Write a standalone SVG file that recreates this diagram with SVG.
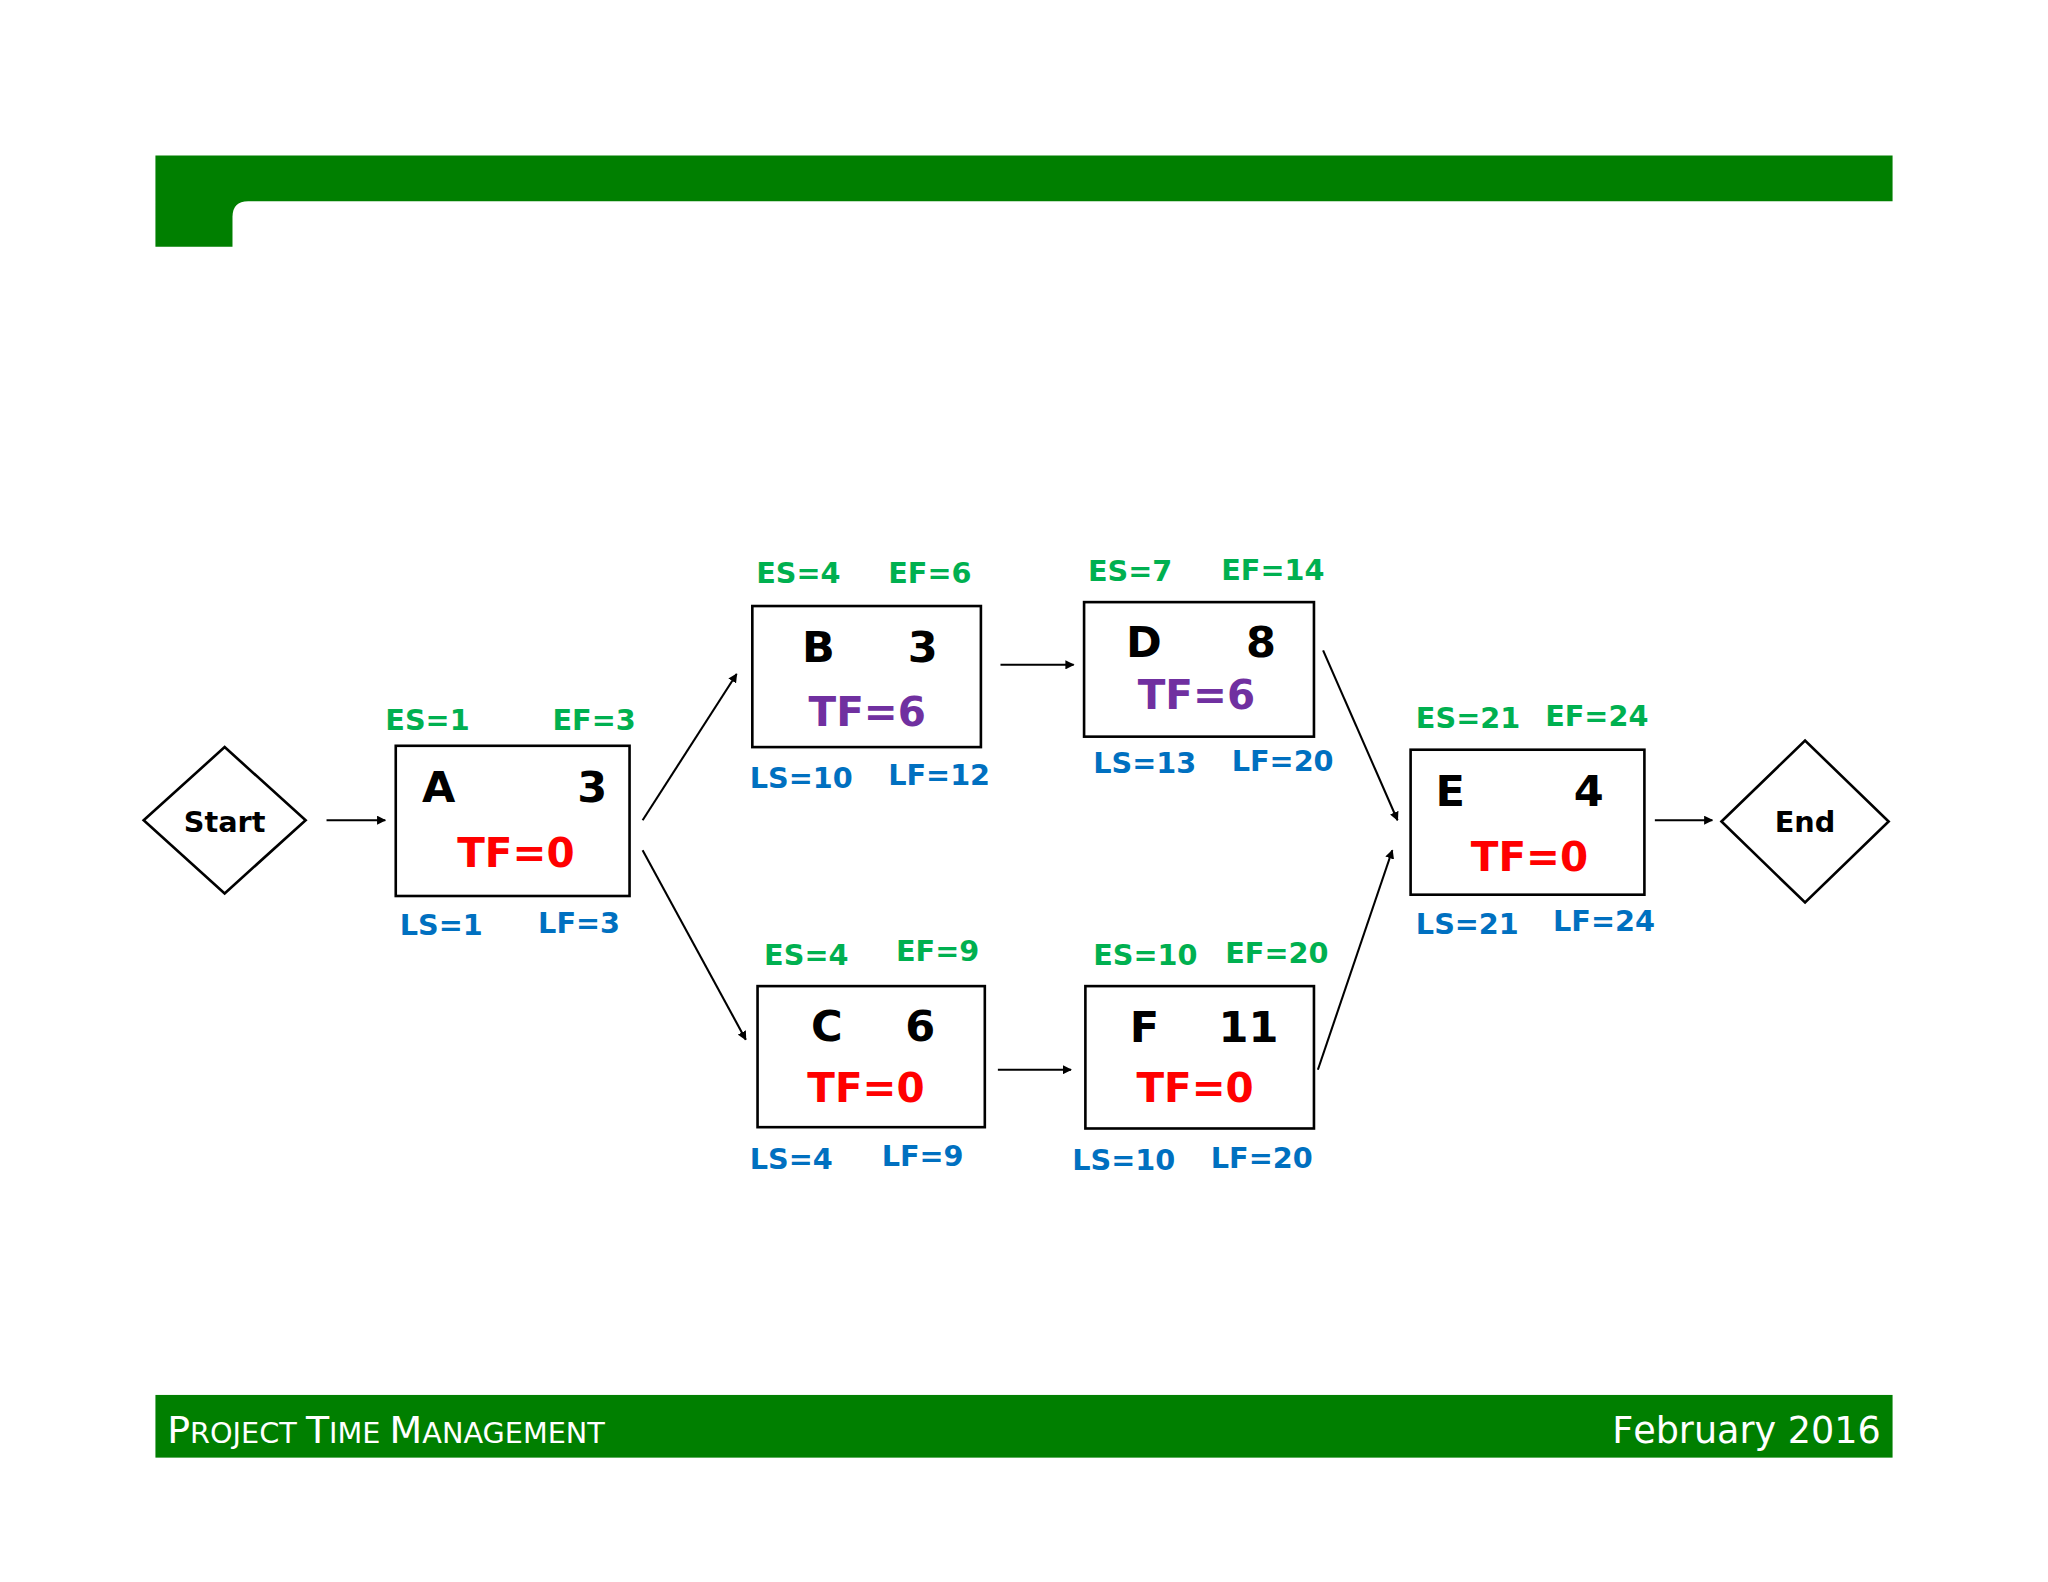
<svg xmlns="http://www.w3.org/2000/svg" width="2048" height="1582" viewBox="0 0 2048 1582">
<defs>
<style>
text{font-family:"DejaVu Sans","Liberation Sans",sans-serif;font-weight:bold}
.es{fill:#00B050;font-size:22px}
.ls{fill:#0070C0;font-size:22px}
.nm{fill:#000;font-size:33px}
.tf0{fill:#FF0000;font-size:31px;text-anchor:middle}
.tf6{fill:#7030A0;font-size:31px;text-anchor:middle}
.box{fill:#fff;stroke:#000;stroke-width:2}
.ln{stroke:#000;stroke-width:1.6;fill:none;marker-end:url(#ah)}
.ft{fill:#fff;font-family:"DejaVu Sans",sans-serif;font-weight:normal}
</style>
<marker id="ah" viewBox="0 0 10 10" refX="9" refY="5" markerWidth="7" markerHeight="7" orient="auto" markerUnits="userSpaceOnUse"><path d="M0,0 L10,5 L0,10 z" fill="#000"/></marker>
</defs>
<rect width="2048" height="1582" fill="#fff"/>
<g transform="scale(1.30612)">
<g id="header"><path d="M119,119 H1449 V154 H190 Q178,154 178,166 V189 H119 Z" fill="#007F00"/></g>
<g id="footer"><rect x="119" y="1068" width="1330" height="48" fill="#007F00"/>
<text class="ft" x="128" y="1105" font-size="22"><tspan font-size="29">P</tspan>ROJECT <tspan font-size="29">T</tspan>IME <tspan font-size="29">M</tspan>ANAGEMENT</text>
<text class="ft" x="1440" y="1105" font-size="28" text-anchor="end">F<tspan font-weight="normal">ebruary 2016</tspan></text></g>
<g id="connectors">
<line class="ln" x1="250" y1="628" x2="295" y2="628"/>
<line class="ln" x1="492" y1="628" x2="564" y2="516"/>
<line class="ln" x1="492" y1="651" x2="571" y2="796"/>
<line class="ln" x1="766" y1="509" x2="822" y2="509"/>
<line class="ln" x1="764" y1="819" x2="820" y2="819"/>
<line class="ln" x1="1013" y1="498" x2="1070" y2="628"/>
<line class="ln" x1="1009" y1="819" x2="1066" y2="651"/>
<line class="ln" x1="1267" y1="628" x2="1311" y2="628"/>
</g>
<g id="start"><polygon class="box" points="110,628 172,572 234,628 172,684"/><text x="172" y="637" font-size="22" text-anchor="middle">Start</text></g>
<g id="end"><polygon class="box" points="1318,629 1382,567 1446,629 1382,691"/><text x="1382" y="637" font-size="22" text-anchor="middle">End</text></g>
<g id="A"><rect class="box" x="303" y="571" width="179" height="115"/>
<text class="es" x="295" y="559">ES=1</text><text class="es" x="423" y="559">EF=3</text>
<text class="nm" x="323" y="614">A</text><text class="nm" x="442" y="614">3</text>
<text class="tf0" x="395" y="664">TF=0</text>
<text class="ls" x="306" y="716">LS=1</text><text class="ls" x="412" y="714">LF=3</text></g>
<g id="B"><rect class="box" x="576" y="464" width="175" height="108"/>
<text class="es" x="579" y="446">ES=4</text><text class="es" x="680" y="446">EF=6</text>
<text class="nm" x="614" y="507">B</text><text class="nm" x="695" y="507">3</text>
<text class="tf6" x="664" y="556">TF=6</text>
<text class="ls" x="574" y="603">LS=10</text><text class="ls" x="680" y="601">LF=12</text></g>
<g id="D"><rect class="box" x="830" y="461" width="176" height="103"/>
<text class="es" x="833" y="445">ES=7</text><text class="es" x="935" y="444">EF=14</text>
<text class="nm" x="862" y="503">D</text><text class="nm" x="954" y="503">8</text>
<text class="tf6" x="916" y="543">TF=6</text>
<text class="ls" x="837" y="592">LS=13</text><text class="ls" x="943" y="590">LF=20</text></g>
<g id="C"><rect class="box" x="580" y="755" width="174" height="108"/>
<text class="es" x="585" y="739">ES=4</text><text class="es" x="686" y="736">EF=9</text>
<text class="nm" x="621" y="797">C</text><text class="nm" x="693" y="797">6</text>
<text class="tf0" x="663" y="844">TF=0</text>
<text class="ls" x="574" y="895">LS=4</text><text class="ls" x="675" y="893">LF=9</text></g>
<g id="F"><rect class="box" x="831" y="755" width="175" height="109"/>
<text class="es" x="837" y="739">ES=10</text><text class="es" x="938" y="737">EF=20</text>
<text class="nm" x="865" y="798">F</text><text class="nm" x="933" y="798">11</text>
<text class="tf0" x="915" y="844">TF=0</text>
<text class="ls" x="821" y="896">LS=10</text><text class="ls" x="927" y="894">LF=20</text></g>
<g id="E"><rect class="box" x="1080" y="574" width="179" height="111"/>
<text class="es" x="1084" y="557">ES=21</text><text class="es" x="1183" y="556">EF=24</text>
<text class="nm" x="1099" y="617">E</text><text class="nm" x="1205" y="617">4</text>
<text class="tf0" x="1171" y="667">TF=0</text>
<text class="ls" x="1084" y="715">LS=21</text><text class="ls" x="1189" y="713">LF=24</text></g>
</g>
</svg>
